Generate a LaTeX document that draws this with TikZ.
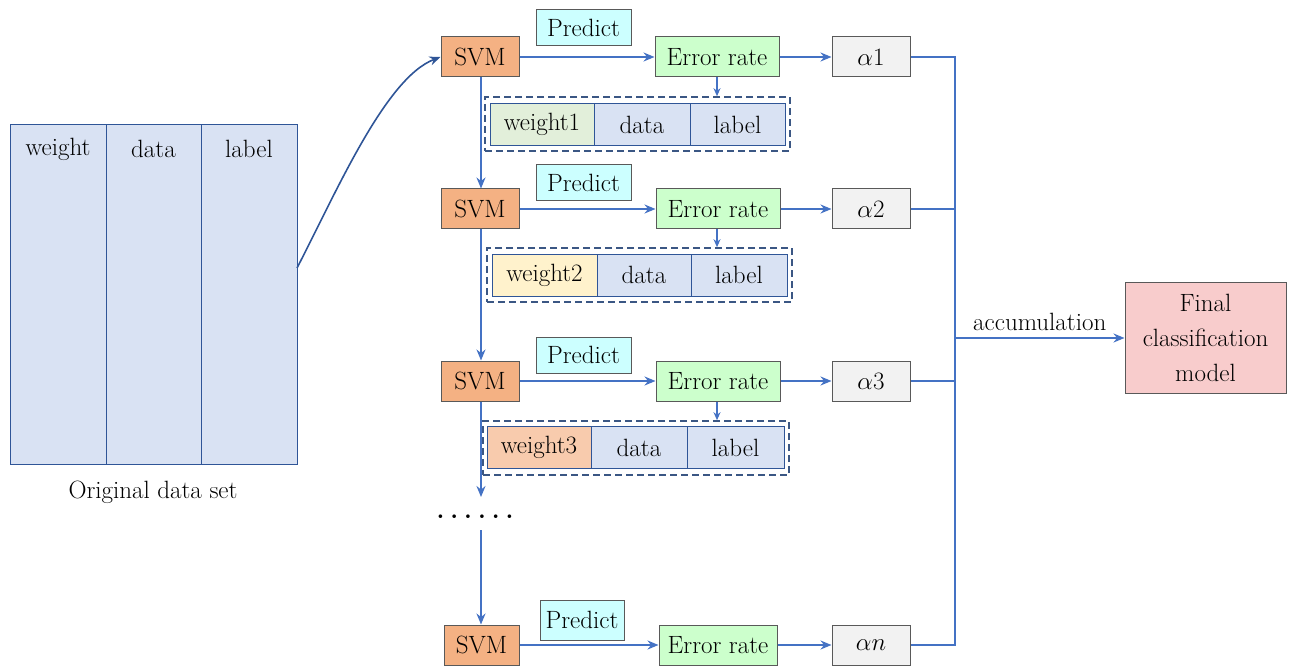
\documentclass[tikz,border=0pt]{standalone}
\usetikzlibrary{arrows.meta}
\definecolor{flow}{HTML}{4472C4}
\definecolor{deepblue}{HTML}{2F5597}
\definecolor{dashblue}{HTML}{3B5784}
\definecolor{svmfill}{HTML}{F4B183}
\definecolor{predfill}{HTML}{CCFFFF}
\definecolor{errfill}{HTML}{CCFFCC}
\definecolor{alphafill}{HTML}{F2F2F2}
\definecolor{finalfill}{HTML}{F8CCCC}
\definecolor{cellfill}{HTML}{D9E2F3}
\definecolor{wone}{HTML}{E2EFDA}
\definecolor{wtwo}{HTML}{FFF2CC}
\definecolor{wthree}{HTML}{F8CBAD}
\definecolor{edge}{HTML}{595959}
\tikzset{
  x=1pt, y=-1pt,
  every node/.style={font=\fontsize{25}{35}\selectfont, inner sep=0pt, text=black},
  blk/.style={draw=edge, line width=1pt, minimum height=40pt},
  svmbox/.style={blk, fill=svmfill, minimum width=78pt},
  predbox/.style={blk, fill=predfill, minimum width=95pt, minimum height=36pt},
  errbox/.style={blk, fill=errfill, minimum width=124pt},
  alphabox/.style={blk, fill=alphafill, minimum width=78pt},
  cell/.style={draw=deepblue, line width=1pt, fill=cellfill, minimum height=42pt},
  dashframe/.style={draw=dashblue, line width=1.6pt, dash pattern=on 7pt off 4pt},
  flowline/.style={draw=flow, line width=1.8pt},
  flowarrow/.style={flowline, -{Stealth[length=11pt,width=9pt]}},
}
\begin{document}
\begin{tikzpicture}
\useasboundingbox (0,0) rectangle (1293,671);

% original data set
\node[draw=deepblue, line width=1pt, fill=cellfill, minimum width=96pt, minimum height=339pt] (dw) at (58,294.5) {};
\node[draw=deepblue, line width=1pt, fill=cellfill, minimum width=95pt, minimum height=339pt] (dd) at (153.5,294.5) {};
\node[draw=deepblue, line width=1pt, fill=cellfill, minimum width=96pt, minimum height=339pt] (dl) at (249,294.5) {};
\node (tw) at (58,149) {weight};
\node (td) at (153.5,149) {data};
\node (tl) at (249,149) {label};
\node (cap) at (153,492) {Original data set};

% boosting rounds
\node[svmbox] (s1) at (480,57) {SVM};
\node[predbox] (p1) at (583.5,28) {Predict};
\node[errbox] (e1) at (717,57) {Error rate};
\node[alphabox] (a1) at (871,57) {$\alpha$1};

\node[svmbox] (s2) at (480,209) {SVM};
\node[predbox] (p2) at (583.5,182.5) {Predict};
\node[errbox] (e2) at (718,209) {Error rate};
\node[alphabox] (a2) at (871,209) {$\alpha$2};

\node[svmbox] (s3) at (480,381) {SVM};
\node[predbox] (p3) at (583.5,355) {Predict};
\node[errbox] (e3) at (718,381) {Error rate};
\node[alphabox] (a3) at (871,381) {$\alpha$3};

\node[svmbox, minimum width=75pt] (s4) at (481.5,645) {SVM};
\node[predbox, minimum width=84pt, minimum height=40pt] (p4) at (582,620) {Predict};
\node[errbox, minimum width=118pt] (e4) at (718,645) {Error rate};
\node[alphabox] (a4) at (871,645) {$\alpha n$};

% reweighted samples
\node[dashframe, minimum width=305pt, minimum height=54pt] (f1) at (637.5,124) {};
\node[cell, fill=wone, minimum width=104pt] (w1) at (542,124.5) {weight1};
\node[cell, minimum width=96pt] (d1) at (642,124.5) {data};
\node[cell, minimum width=95pt] (l1) at (737.5,124.5) {label};

\node[dashframe, minimum width=305pt, minimum height=54pt] (f2) at (639.5,275) {};
\node[cell, fill=wtwo, minimum width=105pt] (w2) at (544.5,275) {weight2};
\node[cell, minimum width=94pt] (d2) at (644,275) {data};
\node[cell, minimum width=96pt] (l2) at (739,275) {label};

\node[dashframe, minimum width=306pt, minimum height=54pt] (f3) at (636,448) {};
\node[cell, fill=wthree, minimum width=104pt] (w3) at (539,447.5) {weight3};
\node[cell, minimum width=96pt] (d3) at (639,447.5) {data};
\node[cell, minimum width=97pt] (l3) at (735.5,447.5) {label};

\node (dots) at (475,517) {\bfseries .\kern6pt.\kern6pt.\kern6pt.\kern6pt.\kern6pt.};
\coordinate (gapend) at (481,497);
\coordinate (gapstart) at (481,530);

% final model
\node[draw=edge, line width=1pt, fill=finalfill, minimum width=161pt, minimum height=111pt, align=center] (fin) at (1205.5,337.5) {Final\\classification\\model};

% data set feeds the first learner
\coordinate (feed) at (297,268);
\draw[draw=deepblue, line width=1.6pt, -{Stealth[length=11pt,width=9pt]}] (feed) .. controls (335,195) and (385,78) .. (s1.west);

% within each round
\foreach \i in {1,2,3,4} {
  \draw[flowarrow] (s\i.east) -- (s\i.east -| e\i.west);
  \draw[flowarrow] (e\i.east) -- (e\i.east -| a\i.west);
}
\foreach \i in {1,2,3} {
  \draw[flowline, -{Stealth[length=8pt,width=7pt]}] (e\i.south -| 717,0) -- (f\i.north -| 717,0);
}

% chain of learners
\draw[flowarrow] (s1.south -| 481,0) -- (s2.north -| 481,0);
\draw[flowarrow] (s2.south -| 481,0) -- (s3.north -| 481,0);
\draw[flowarrow] (s3.south -| 481,0) -- (gapend);
\draw[flowarrow] (gapstart) -- (s4.north -| 481,0);

% accumulation of weighted learners
\coordinate (bus1) at (955,57);
\coordinate (bus4) at (955,645);
\coordinate (busmid) at (955,338);
\draw[flowline] (a1.east) -- (bus1) -- (bus4) -- (a4.east);
\draw[flowline] (a2.east) -- (a2.east -| bus1);
\draw[flowline] (a3.east) -- (a3.east -| bus1);
\draw[flowarrow] (busmid) -- (busmid -| fin.west) node[midway, above=6pt] (acc) {accumulation};
\end{tikzpicture}
\end{document}
